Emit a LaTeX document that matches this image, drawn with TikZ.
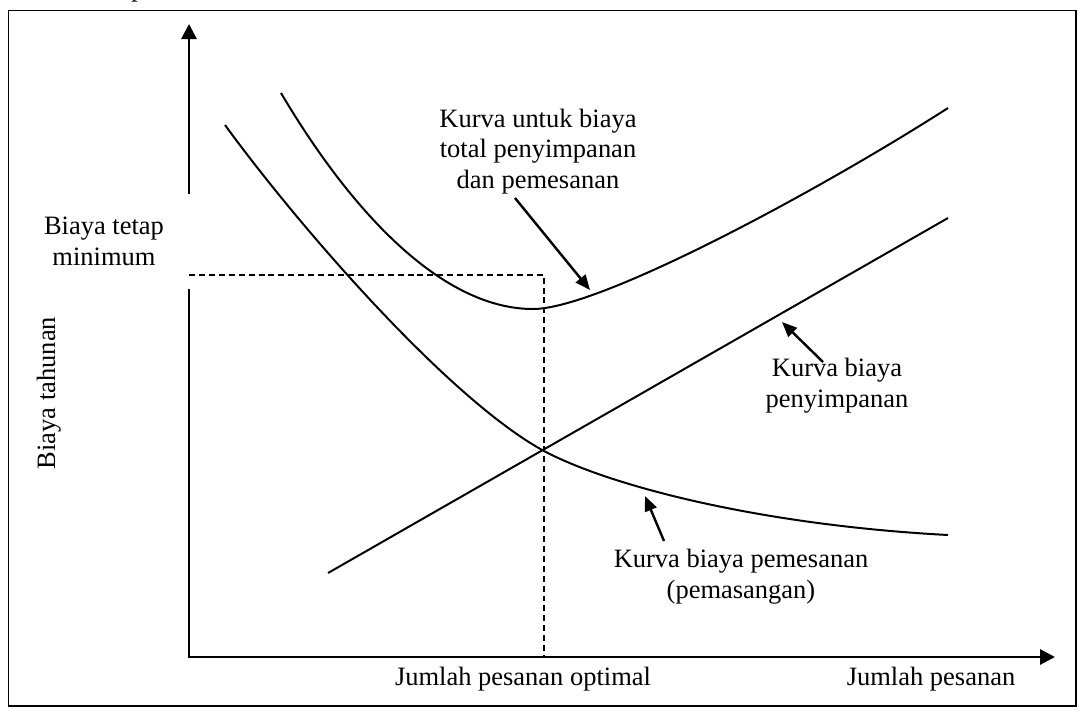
\documentclass[tikz,border=0pt]{standalone}
\usepackage{fontspec}
\setmainfont{Liberation Serif}
\usetikzlibrary{arrows.meta}
\begin{document}
\begin{tikzpicture}[x=0.453pt,y=-0.453pt,
  lbl/.style={font=\fontsize{12}{13.8}\selectfont, align=center, inner sep=0pt},
  axisline/.style={line width=1.3pt, -{Triangle[length=6.8pt,width=6.8pt]}},
  costcurve/.style={line width=0.9pt},
  guide/.style={line width=0.6pt, dash pattern=on 2.7pt off 1.8pt},
  callout/.style={line width=1.1pt, -{Triangle[length=6.8pt,width=5.6pt]}}]
\useasboundingbox (0,0) rectangle (1079,709);
% caption fragment above the frame
\node[lbl, anchor=base west] (cap) at (131,-3.5) {p};
% frame
\draw[line width=0.7pt] (8.3,10.7) rectangle (1076,706);
% axes
\coordinate (O) at (189,657);
\coordinate (ytop) at (189,24);
\coordinate (xend) at (1055,657);
\draw[axisline] (O) -- (ytop);
\draw[axisline] ([xshift=-0.65pt]O) -- (xend);
% label box over the vertical axis
\node[lbl, fill=white, minimum width=79pt, minimum height=43pt] (fixed) at (104,241.5)
  {Biaya tetap\\minimum};
% optimum guide lines
\coordinate (hstart) at (189,275);
\coordinate (corner) at (544,275);
\coordinate (qopt) at (544,657);
\draw[guide] (hstart) -- (corner) -- (qopt);
% total cost curve
\coordinate (tA) at (281,93);
\coordinate (tMin) at (533,309);
\coordinate (tB) at (948,108);
\draw[costcurve] (tA) .. controls (355,218) and (445,309) .. (tMin)
  .. controls (600,309) and (820,190) .. (tB);
% ordering cost curve
\coordinate (oA) at (225,125);
\coordinate (cross) at (544,451);
\coordinate (oB) at (948,535);
\draw[costcurve] (oA) .. controls (300,228) and (450,400) .. (cross)
  .. controls (610,486) and (760,525) .. (oB);
% holding cost line
\coordinate (h0) at (328,573);
\coordinate (h1) at (948,218);
\draw[costcurve] (h0) -- (h1);
% labels
\node[lbl, anchor=base] (total) at (538,188)
  {Kurva untuk biaya\\total penyimpanan\\dan pemesanan};
\node[lbl, anchor=base] (hold) at (837,407) {Kurva biaya\\penyimpanan};
\node[lbl, anchor=base] (order) at (741,598) {Kurva biaya pemesanan\\(pemasangan)};
\node[lbl, anchor=base, rotate=90] (ylab) at (55,393) {Biaya tahunan};
\node[lbl, anchor=base] (qlab) at (523,685) {Jumlah pesanan optimal};
\node[lbl, anchor=base] (xlab) at (931,685) {Jumlah pesanan};
% callout arrows
\coordinate (t0) at (515,198);
\coordinate (t1) at (590,290);
\coordinate (p0) at (823,362);
\coordinate (p1) at (782,322);
\coordinate (o0) at (664,541);
\coordinate (o1) at (645,496);
\draw[callout] (t0) -- (t1);
\draw[callout] (p0) -- (p1);
\draw[callout] (o0) -- (o1);
\end{tikzpicture}
\end{document}
